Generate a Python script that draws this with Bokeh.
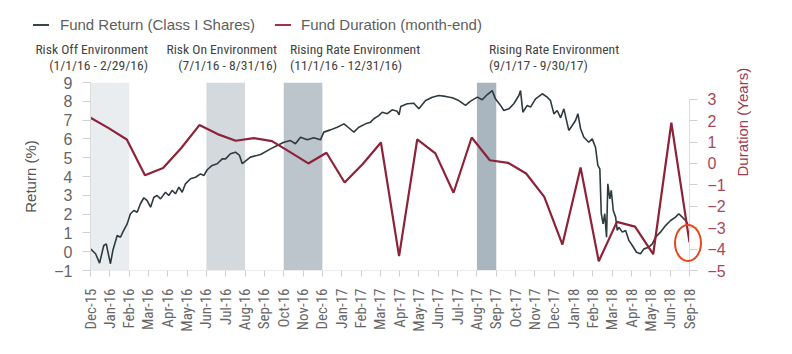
import math
from bokeh.plotting import figure
from bokeh.layouts import column
from bokeh.models import (Range1d, LinearAxis, FixedTicker, SingleIntervalTicker,
                          BoxAnnotation, Div)
from bokeh.embed import file_html
from bokeh.resources import INLINE

# ---------------- data ----------------
tick_labels = ["Dec-15", "Jan-16", "Feb-16", "Mar-16", "Apr-16", "May-16", "Jun-16", "Jul-16",
               "Aug-16", "Sep-16", "Oct-16", "Nov-16", "Dec-16", "Jan-17", "Feb-17", "Mar-17",
               "Apr-17", "May-17", "Jun-17", "Jul-17", "Aug-17", "Sep-17", "Oct-17", "Nov-17",
               "Dec-17", "Jan-18", "Feb-18", "Mar-18", "Apr-18", "May-18", "Jun-18", "Sep-18"]

# month-end duration (years), Dec-15 .. Sep-18 (34 months)
dur_month = list(range(34))
duration = [2.13, 1.65, 1.12, -0.55, -0.21, 0.72, 1.79, 1.37, 1.06, 1.18,
            1.04, 0.53, 0.00, 0.50, -0.89, -0.03, 0.98, -4.33, 1.12, 0.47,
            -1.37, 1.21, 0.15, 0.03, -0.47, -1.56, -3.79, -0.19, -4.57, -2.73,
            -2.95, -4.24, 1.90, -3.69]

# fund return (%), months since Dec-15
ret_month = [0.00, 0.28, 0.50, 0.73, 0.87, 0.98, 1.10, 1.23, 1.47, 1.65,
             1.78, 2.02, 2.20, 2.39, 2.57, 2.75, 2.94, 3.12, 3.31, 3.49,
             3.67, 3.86, 4.13, 4.31, 4.50, 4.68, 4.87, 5.05, 5.23, 5.51,
             5.79, 6.06, 6.24, 6.43, 6.70, 6.98, 7.26, 7.44, 7.71, 7.99,
             8.21, 8.36, 8.81, 9.37, 9.92, 10.29, 10.65, 11.02, 11.29, 11.57,
             11.94, 12.30, 12.67, 12.85, 13.22, 13.59, 13.96, 14.14, 14.51, 14.78,
             15.15, 15.43, 15.61, 15.88, 16.07, 16.35, 16.62, 16.90, 17.00, 17.09,
             17.45, 17.81, 18.09, 18.46, 18.83, 19.19, 19.56, 19.93, 20.29, 20.66,
             20.94, 21.31, 21.58, 21.86, 22.13, 22.31, 22.59, 22.77, 23.05, 23.32,
             23.60, 23.69, 23.82, 24.06, 24.24, 24.52, 24.89, 25.16, 25.34, 25.53,
             25.71, 25.90, 26.08, 26.35, 26.54, 26.72, 26.85, 27.00, 27.18, 27.45,
             27.64, 27.82, 27.95, 28.06, 28.14, 28.24, 28.33, 28.43, 28.50, 28.61,
             28.69, 28.80, 28.93, 29.02, 29.11, 29.30, 29.48, 29.66, 29.85, 30.08,
             30.30, 30.49, 30.76, 30.95, 31.13, 31.40, 31.68, 31.96, 32.23, 32.41,
             32.60, 32.78, 32.91]
ret_value = [0.15, -0.11, -0.61, 0.33, 0.42, -0.11, -0.64, 0.06, 0.86, 0.77,
             1.04, 1.48, 2.02, 2.19, 2.10, 2.55, 2.87, 2.72, 2.37, 2.90,
             2.99, 2.81, 3.16, 2.99, 3.26, 3.08, 3.43, 3.16, 3.61, 3.88,
             3.96, 4.14, 4.05, 4.36, 4.59, 4.68, 4.94, 4.94, 5.21, 5.29,
             5.12, 4.68, 5.03, 5.17, 5.47, 5.65, 5.82, 5.91, 5.74, 6.09,
             5.95, 6.06, 5.95, 6.36, 6.48, 6.62, 6.80, 6.66, 6.36, 6.62,
             6.80, 6.89, 7.07, 7.24, 7.42, 7.34, 7.55, 7.47, 7.28, 7.72,
             7.87, 7.90, 7.60, 8.04, 8.22, 8.31, 8.26, 8.19, 8.04, 7.78,
             8.01, 8.22, 8.08, 8.36, 8.57, 8.13, 7.78, 7.51, 7.60, 7.87,
             8.31, 8.57, 7.42, 7.78, 7.69, 8.13, 8.40, 8.22, 8.04, 7.33,
             7.51, 7.12, 7.60, 6.45, 6.71, 6.98, 7.34, 6.54, 6.09, 5.82,
             6.00, 5.56, 4.59, 4.41, 2.02, 1.48, 2.02, 0.77, 3.61, 2.81,
             3.26, 2.19, 1.84, 1.13, 1.30, 1.04, 1.13, 0.60, 0.33, -0.03,
             -0.11, 0.15, 0.24, 0.42, 0.77, 1.04, 1.39, 1.66, 1.84, 2.02,
             1.84, 1.66, 1.48]

series_names = ["Fund Return (Class I Shares)", "Fund Duration (month-end)"]

# shaded environments, in tick-label positions
band_start = [0, 6, 10, 20]
band_end = [2, 8, 12, 21]
band_colors = ["#e9edf0", "#d3d9dd", "#bcc5cc", "#a9b5bf"]
env_title = ["Risk Off Environment", "Risk On Environment",
             "Rising Rate Environment", "Rising Rate Environment"]
env_dates = ["(1/1/16 - 2/29/16)", "(7/1/16 - 8/31/16)",
             "(11/1/16 - 12/31/16)", "(9/1/17 - 9/30/17)"]

# ---------------- styling ----------------
NARROW = "Liberation Sans Narrow, Arial Narrow, Roboto Condensed, sans-serif"
SANS = "Liberation Sans, Arial, Helvetica, sans-serif"
RED = "#8e2238"
DARK = "#2e3b3e"
W, H = 792, 354
X_MAX = len(tick_labels) - 1
M_MAX = len(dur_month) - 1

p = figure(width=W, height=H, output_backend="svg", toolbar_location=None,
           x_range=Range1d(0, X_MAX), y_range=Range1d(-1, 9),
           min_border_left=90, min_border_right=103, min_border_top=82, min_border_bottom=84,
           x_axis_location=None, y_axis_location=None)
p.extra_x_ranges = {"months": Range1d(0, M_MAX)}
p.extra_y_ranges = {"dur": Range1d(-5, 3.78)}
p.outline_line_color = None
p.xgrid.visible = False
p.ygrid.visible = False
p.background_fill_color = "white"
p.border_fill_color = "white"

for s, e, c in zip(band_start, band_end, band_colors):
    p.add_layout(BoxAnnotation(left=s, right=e, fill_color=c, fill_alpha=1.0,
                               line_alpha=0, level="underlay"))

p.line(ret_month, ret_value, x_range_name="months", line_color=DARK, line_width=1.6)
p.line(dur_month, duration, x_range_name="months", y_range_name="dur",
       line_color=RED, line_width=2.2)

left = LinearAxis(ticker=SingleIntervalTicker(interval=1), axis_label="Return (%)")
right = LinearAxis(y_range_name="dur", bounds=(-5, 3), ticker=SingleIntervalTicker(interval=1),
                   axis_label="Duration (Years)")
bottom = LinearAxis(ticker=FixedTicker(ticks=list(range(len(tick_labels)))),
                    major_label_overrides={i: t for i, t in enumerate(tick_labels)},
                    major_label_orientation=math.pi / 2)
for ax in (left, right, bottom):
    ax.axis_line_color = "#dcdcdc"
    ax.major_tick_line_color = "#d0d0d0"
    ax.major_tick_in = 0
    ax.major_tick_out = 8
    ax.minor_tick_line_color = None
    ax.major_label_standoff = 10
    ax.axis_label_text_font_style = "normal"
left.major_label_text_font = SANS
left.major_label_text_font_size = "16px"
left.major_label_text_color = "#666666"
left.axis_label_text_font = SANS
left.axis_label_text_font_size = "15px"
left.axis_label_text_color = "#555555"
left.axis_label_standoff = 12
right.major_label_text_font = SANS
right.major_label_text_font_size = "16px"
right.major_label_text_color = "#a8475c"
right.axis_label_text_font = SANS
right.axis_label_text_font_size = "15px"
right.axis_label_text_color = "#a23a52"
right.axis_label_standoff = 14
try:
    right.axis_label_orientation = math.pi / 2
except Exception:
    pass
bottom.major_tick_out = 6
bottom.major_label_standoff = 12
bottom.major_label_text_font = NARROW
bottom.major_label_text_font_size = "15px"
bottom.major_label_text_color = "#666666"
bottom.axis_line_color = "#ececec"
p.add_layout(left, "left")
p.add_layout(right, "right")
p.add_layout(bottom, "below")

# ---------------- header texts + highlight ring (overlay) ----------------
span = "position:absolute;white-space:nowrap;"
parts = []
# legend
for name, col, sx, tx in zip(series_names, ["#3b4549", "#a3304a"], [33, 275], [60, 301]):
    parts.append(f'<div style="{span}left:{sx}px;top:24px;width:16px;height:2px;background:{col};"></div>')
    parts.append(f'<div style="{span}left:{tx}px;top:17px;font-family:{SANS};font-size:15px;'
                 f'line-height:15px;color:#5e5e5e;">{name}</div>')
# environment notes (one element per line)
anchors = ["right:644px;text-align:right;", "right:515px;text-align:right;",
           "left:290px;text-align:left;", "left:489px;text-align:left;"]
for t, d, a in zip(env_title, env_dates, anchors):
    for txt, top_px in ((t, 42), (d, 58)):
        parts.append(f'<div style="{span}{a}top:{top_px}px;font-family:{NARROW};font-size:13.6px;'
                     f'line-height:14px;color:#444444;">{txt}</div>')
# ring around the last duration point
parts.append(f'<div style="{span}left:674px;top:224px;width:28px;height:38px;box-sizing:border-box;'
             f'border:2.5px solid #e4471e;border-radius:50%;"></div>')
overlay = Div(text=f'<div style="position:relative;width:{W}px;height:{H}px;">' + "".join(parts) + "</div>",
              width=W, height=H, margin=(-H, 0, 0, 0))

layout = column(p, overlay, spacing=0)
open("out.html", "w").write(file_html(layout, INLINE))
